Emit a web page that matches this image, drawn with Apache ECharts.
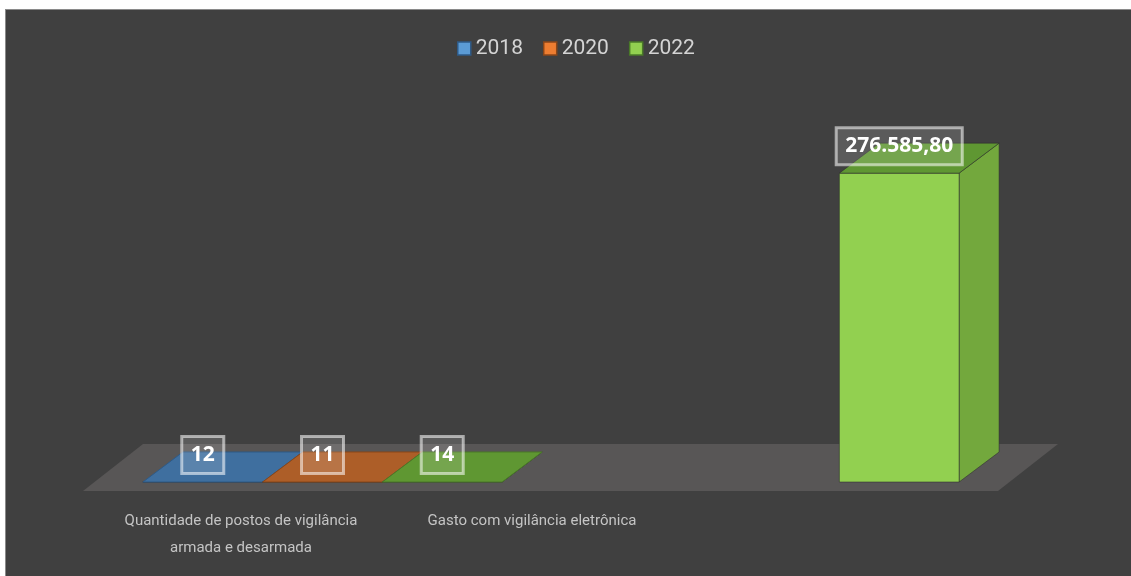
<!DOCTYPE html>
<html>
<head>
<meta charset="utf-8">
<script src="https://cdn.jsdelivr.net/npm/echarts@6/dist/echarts.min.js"></script>
<style>
  html, body { margin: 0; padding: 0; background: #ffffff; }
  #frame { position: absolute; left: 5px; top: 9px; width: 1130px; height: 570px;
           background: #404040; border: 1px solid #8a8a8a; box-sizing: border-box; }
  #chart { position: absolute; left: 0; top: 0; width: 1131px; height: 576px; }
</style>
</head>
<body>
<div id="frame"></div>
<div id="chart"></div>
<script>
// ---- data ----
const categories = ['Quantidade de postos de vigilância\narmada e desarmada', 'Gasto com vigilância eletrônica'];
const seriesNames = ['2018', '2020', '2022'];
const values2018 = [12, null];
const values2020 = [11, null];
const values2022 = [14, 276585.80];
const yAxisMax = 300000;

// ---- styles ----
const faceColors = [
  { front: '#5b9bd5', side: '#4a80b3', top: '#3f6f9f', edge: '#2e5a87' },
  { front: '#ed7d31', side: '#c46528', top: '#ad5e28', edge: '#8a4618' },
  { front: '#92d050', side: '#73a83d', top: '#5f9732', edge: '#4a7a28' }
];
const BAR_RATIO = 0.262;
const DEPTH = [40, -30];
const FLOOR_DEPTH = [60, -47];
const labelFont = "Roboto, 'Open Sans', sans-serif";

function fmt(v) {
  if (Number.isInteger(v)) return String(v);
  const parts = v.toFixed(2).split('.');
  const intPart = parts[0].replace(/\B(?=(\d{3})+(?!\d))/g, '.');
  return intPart + ',' + parts[1];
}

function makeBarRender(idx) {
  const c = faceColors[idx];
  return function (params, api) {
    const cat = api.value(0), val = api.value(1);
    if (val == null || isNaN(val)) return;
    const band = api.size([1, 0])[0];
    const w = band * BAR_RATIO;
    const center = api.coord([cat, 0]);
    const yBase = center[1];
    const yTop = api.coord([cat, val])[1];
    const x0 = center[0] + (idx - 1.5) * w;
    const x1 = x0 + w;
    const dx = DEPTH[0], dy = DEPTH[1];
    const stroke = 'rgba(45,45,45,0.55)';
    const children = [
      { type: 'polygon', shape: { points: [[x1, yTop], [x1 + dx, yTop + dy], [x1 + dx, yBase + dy], [x1, yBase]] },
        style: { fill: c.side, stroke: stroke, lineWidth: 1 } },
      { type: 'polygon', shape: { points: [[x0, yTop], [x1, yTop], [x1, yBase], [x0, yBase]] },
        style: { fill: c.front, stroke: stroke, lineWidth: 1 } },
      { type: 'polygon', shape: { points: [[x0, yTop], [x1, yTop], [x1 + dx, yTop + dy], [x0 + dx, yTop + dy]] },
        style: { fill: c.top, stroke: (yBase - yTop < 2) ? c.edge : stroke, lineWidth: 1 } },
      { type: 'text', z2: 100,
        style: { text: fmt(val), x: (x0 + x1) / 2, y: yTop - 27, align: 'center', verticalAlign: 'middle',
                 fill: '#ffffff', font: "bold 21px 'Open Sans', sans-serif",
                 backgroundColor: 'rgba(255,255,255,0.14)', borderColor: 'rgba(255,255,255,0.55)',
                 borderWidth: 1.5, padding: [8, 9, 8, 9] } }
    ];
    return { type: 'group', children: children };
  };
}

function renderFloor(params, api) {
  const cs = params.coordSys;
  const yF = cs.y + cs.height + 9;
  const xL = cs.x - 11, xR = cs.x + cs.width - 10;
  const dx = FLOOR_DEPTH[0], dy = FLOOR_DEPTH[1];
  return { type: 'polygon', shape: { points: [[xL, yF], [xR, yF], [xR + dx, yF + dy], [xL + dx, yF + dy]] },
           style: { fill: '#585656' } };
}

const seriesData = [values2018, values2020, values2022];

const chart = echarts.init(document.getElementById('chart'), null, { renderer: 'canvas' });
chart.setOption({
  backgroundColor: 'transparent',
  animation: false,
  legend: {
    left: 457, top: 38, padding: 0,
    itemWidth: 13, itemHeight: 13, itemGap: 20,
    icon: 'rect',
    textStyle: { color: '#d4d4d4', fontSize: 21, fontFamily: labelFont },
    data: seriesNames.map((n, i) => ({ name: n, itemStyle: { color: faceColors[i].front, borderColor: faceColors[i].edge, borderWidth: 1.5 } }))
  },
  grid: [
    { left: 94, width: 914, top: 147, bottom: 94 },
    { left: 95.5, width: 582, top: 147, bottom: 76 }
  ],
  xAxis: [
    { type: 'category', gridIndex: 0, data: categories, axisLine: { show: false }, axisTick: { show: false }, axisLabel: { show: false } },
    { type: 'category', gridIndex: 1, data: categories, axisLine: { show: false }, axisTick: { show: false },
      axisLabel: { show: true, margin: 8, color: '#c4c4c4', fontSize: 15, lineHeight: 27, fontFamily: labelFont, interval: 0, verticalAlign: 'top' } }
  ],
  yAxis: [
    { type: 'value', gridIndex: 0, min: 0, max: yAxisMax, show: false, splitLine: { show: false } },
    { type: 'value', gridIndex: 1, show: false, splitLine: { show: false } }
  ],
  series: [
    { type: 'custom', name: 'floor', xAxisIndex: 0, yAxisIndex: 0, renderItem: renderFloor, data: [[0]], silent: true, z: 1 }
  ].concat(seriesNames.map((n, i) => ({
    type: 'custom', name: n, xAxisIndex: 0, yAxisIndex: 0,
    itemStyle: { color: faceColors[i].front },
    renderItem: makeBarRender(i),
    encode: { x: 0, y: 1 },
    data: seriesData[i].map((v, ci) => [ci, v])
  })))
});
</script>
</body>
</html>
